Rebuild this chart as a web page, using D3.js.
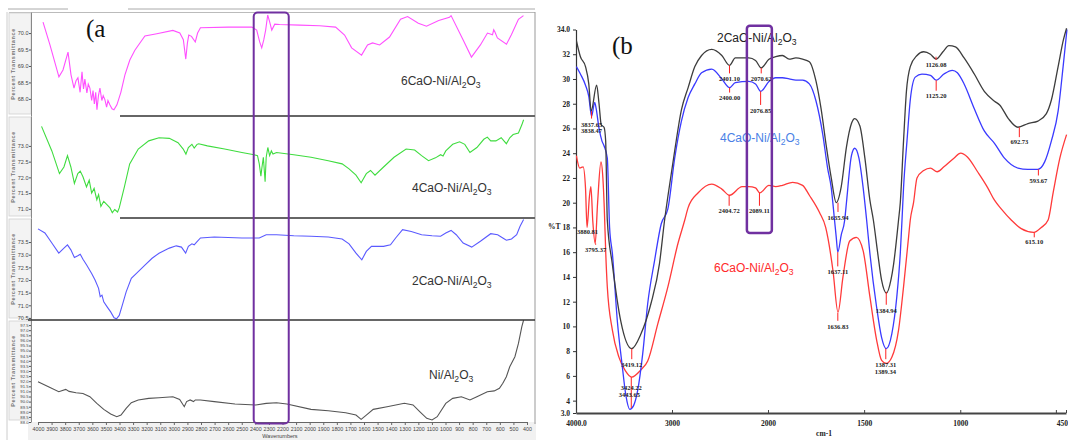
<!DOCTYPE html>
<html><head><meta charset="utf-8">
<script src="https://cdn.jsdelivr.net/npm/d3@7"></script>
<style>body{margin:0;background:#fff}svg{display:block}</style>
</head><body>
<svg id="c" width="1068" height="440"></svg>
<script>
// ---------- Panel (a) data: [wavenumber, %T] ----------
const sixA = [[3963,70.33],[3912,69.64],[3846,68.67],[3816,68.88],[3779,69.42],[3757,68.73],[3735,68.33],[3720,68.55],[3706,68.64],[3690,68.2],[3676,68.82],[3665,68.3],[3655,68.6],[3640,68.18],[3630,68.45],[3618,68.33],[3605,67.95],[3595,68.25],[3585,67.85],[3575,68.2],[3566,67.67],[3555,68.1],[3544,68.33],[3530,67.95],[3520,68.1],[3507,67.97],[3495,67.75],[3485,67.95],[3471,67.82],[3455,67.7],[3441,67.67],[3419,67.82],[3390,68.2],[3360,68.73],[3324,69.18],[3287,69.48],[3213,69.91],[3125,69.98],[3007,70.08],[2956,70.0],[2930,69.8],[2912,69.21],[2900,69.7],[2890,69.94],[2870,69.9],[2842,69.73],[2825,70.0],[2804,70.16],[2600,70.18],[2426,70.18],[2390,70.09],[2368,69.73],[2353,69.55],[2338,69.79],[2324,70.09],[2309,70.55],[2294,70.33],[2279,70.09],[2257,70.27],[2221,70.26],[2074,70.24],[1926,70.22],[1809,70.18],[1743,69.94],[1691,69.55],[1618,69.33],[1574,69.64],[1537,69.70],[1485,69.64],[1412,69.88],[1331,70.42],[1279,70.5],[1200,70.3],[1140,70.21],[1050,70.38],[971,70.48],[959,70.53],[870,69.79],[809,69.27],[743,69.64],[691,70.0],[654,69.95],[645,70.1],[636,70.03],[618,69.85],[551,69.66],[515,69.95],[463,70.42],[426,70.53]];
const fourA = [[3974,73.62],[3898,72.84],[3842,72.12],[3809,72.33],[3783,72.69],[3758,72.33],[3732,71.81],[3707,72.12],[3689,72.20],[3669,72.02],[3643,71.70],[3623,71.91],[3605,71.50],[3587,71.65],[3567,71.29],[3554,71.45],[3537,71.08],[3516,71.24],[3491,71.13],[3470,71.03],[3453,70.88],[3435,70.98],[3414,70.90],[3402,71.03],[3364,71.70],[3325,72.43],[3262,72.90],[3185,73.16],[3109,73.26],[3033,73.24],[2969,73.10],[2931,72.90],[2911,72.74],[2893,72.95],[2867,73.05],[2850,72.93],[2829,73.05],[2817,73.07],[2753,73.0],[2626,72.90],[2499,72.79],[2409,72.72],[2384,72.69],[2371,72.43],[2359,72.04],[2351,72.33],[2341,72.64],[2328,71.86],[2320,72.64],[2308,72.95],[2295,72.69],[2282,72.84],[2270,72.74],[2244,72.79],[2117,72.72],[1990,72.64],[1863,72.53],[1761,72.43],[1710,72.27],[1659,72.07],[1621,71.83],[1583,72.12],[1552,72.22],[1519,72.07],[1456,72.33],[1379,72.64],[1290,72.90],[1227,72.87],[1176,72.69],[1125,72.53],[1074,72.62],[1036,72.72],[1018,72.68],[998,72.84],[947,73.05],[896,73.13],[858,73.05],[820,72.79],[769,72.95],[718,73.21],[692,73.28],[667,73.16],[629,73.16],[590,73.26],[552,73.07],[527,73.26],[502,73.36],[463,73.41],[438,73.67],[425,73.83]];
const twoA = [[4000,74.02],[3949,73.86],[3898,73.46],[3847,73.06],[3809,73.26],[3783,73.39],[3758,73.19],[3732,72.89],[3707,72.96],[3689,73.02],[3669,72.82],[3643,72.60],[3605,72.26],[3580,72.0],[3554,71.67],[3542,71.34],[3529,71.40],[3516,71.14],[3491,70.94],[3465,70.74],[3440,70.51],[3422,70.47],[3402,70.60],[3376,71.07],[3351,71.53],[3313,72.07],[3262,72.33],[3211,72.60],[3160,72.86],[3109,73.06],[3033,73.26],[2982,73.35],[2944,73.30],[2913,73.06],[2893,73.33],[2867,73.43],[2850,73.39],[2834,73.49],[2804,73.66],[2702,73.70],[2499,73.66],[2371,73.66],[2320,73.79],[2244,73.79],[2117,73.75],[1990,73.73],[1863,73.70],[1761,73.62],[1710,73.43],[1659,73.06],[1616,72.80],[1583,73.13],[1545,73.33],[1494,73.33],[1456,73.33],[1405,73.39],[1367,73.66],[1316,73.99],[1252,73.92],[1176,73.79],[1099,73.75],[1036,73.73],[998,73.86],[959,73.96],[921,73.79],[870,73.46],[807,73.30],[743,73.53],[667,73.83],[616,73.79],[578,73.66],[552,73.57],[514,73.62],[476,73.79],[451,74.12],[425,74.39]];
const niA = [[4000,91.95],[3923,91.46],[3847,90.97],[3796,91.2],[3771,91.0],[3720,90.87],[3669,90.8],[3618,90.48],[3567,89.83],[3516,89.24],[3465,88.78],[3420,88.52],[3389,88.68],[3351,89.34],[3313,89.89],[3262,90.16],[3185,90.32],[3109,90.38],[3007,90.48],[2957,90.2],[2923,89.5],[2906,90.0],[2880,90.16],[2855,90.0],[2842,90.16],[2804,90.16],[2702,90.0],[2550,89.76],[2397,89.67],[2320,89.83],[2244,89.89],[2168,89.76],[1990,89.24],[1863,89.1],[1735,88.91],[1659,88.68],[1621,88.26],[1583,88.68],[1532,89.24],[1430,89.5],[1303,89.83],[1239,89.67],[1188,89.0],[1138,88.36],[1099,88.2],[1061,88.52],[998,89.83],[947,90.32],[883,90.48],[820,90.16],[769,90.48],[692,90.97],[641,91.05],[603,91.3],[578,91.8],[552,92.44],[527,93.42],[489,94.4],[463,95.7],[438,97.34],[425,98.0]];
const ticksA_x = d3.range(4000, 399, -100);
const ticks6A = [68.0,68.5,69.0,69.5,70.0];
const ticks4A = [71.0,71.5,72.0,72.5,73.0];
const ticks2A = [70.5,71.0,71.5,72.0,72.5,73.0,73.5];
const ticksNiA = d3.range(88, 97.51, 0.5);
const highlightA = [2412, 2154];

// ---------- Panel (b) data: [wavenumber, %T] ----------
const twoB = [[3996,33.1],[3954,31.8],[3901,31.0],[3867,29.6],[3842,27.4],[3785,29.5],[3760,28.0],[3737,26.3],[3708,26.1],[3691,25.0],[3674,18.6],[3621,15.0],[3533,10.4],[3421,8.2],[3323,9.4],[3219,11.85],[3130,15.1],[3077,18.6],[3043,20.5],[2972,24.2],[2902,27.5],[2832,29.3],[2762,31.0],[2692,31.9],[2586,32.4],[2481,31.9],[2401,31.1],[2340,31.7],[2200,31.7],[2130,31.5],[2071,30.9],[1995,31.6],[1960,31.8],[1925,31.9],[1890,31.6],[1855,31.7],[1820,31.6],[1785,31.4],[1750,29.8],[1724,27.6],[1697,24.6],[1671,22.0],[1645,20.0],[1619,21.3],[1592,24.5],[1566,26.4],[1549,26.8],[1522,26.2],[1496,23.6],[1470,20.2],[1452,18.6],[1430,16.0],[1410,13.8],[1384,12.7],[1360,13.8],[1347,15.0],[1321,18.6],[1312,20.0],[1295,25.0],[1280,29.0],[1260,31.0],[1225,31.9],[1190,32.2],[1155,32.0],[1126,31.6],[1090,32.2],[1059,32.7],[1025,32.6],[980,31.7],[927,30.4],[875,29.0],[822,28.2],[795,27.9],[750,26.8],[700,26.1],[648,26.4],[596,26.6],[552,27.2],[526,28.3],[491,31.0],[463,33.2],[447,34.1]];
const fourB = [[3996,31.0],[3954,30.4],[3901,29.5],[3867,28.6],[3838,27.0],[3805,28.1],[3790,27.6],[3760,26.0],[3730,25.0],[3708,24.6],[3674,23.6],[3650,18.0],[3621,15.9],[3569,10.4],[3519,6.85],[3480,4.4],[3440,3.3],[3400,3.6],[3358,4.8],[3305,7.8],[3253,11.85],[3182,15.3],[3112,18.3],[3043,19.5],[2972,23.6],[2902,26.6],[2832,28.5],[2762,29.6],[2692,30.5],[2586,30.8],[2481,30.0],[2400,29.3],[2340,29.7],[2200,29.8],[2130,29.6],[2076,29.0],[1995,29.8],[1960,30.1],[1925,30.1],[1890,30.0],[1855,29.9],[1820,29.9],[1785,29.6],[1750,28.2],[1715,25.5],[1690,22.8],[1671,21.2],[1654,18.6],[1645,17.2],[1637,16.0],[1619,17.4],[1601,18.6],[1592,20.0],[1566,23.8],[1549,24.4],[1527,23.6],[1505,21.2],[1487,18.6],[1470,15.9],[1435,11.55],[1409,9.1],[1385,8.2],[1356,9.4],[1330,12.4],[1312,15.9],[1303,18.6],[1295,21.2],[1277,25.0],[1260,28.3],[1234,30.15],[1199,30.4],[1155,30.3],[1125,29.9],[1085,30.4],[1041,30.7],[1015,30.5],[980,29.6],[927,27.6],[875,25.8],[822,24.8],[770,23.6],[700,22.8],[648,22.7],[596,22.7],[561,23.3],[526,25.0],[491,27.4],[465,31.0],[445,34.0]];
const sixB = [[3996,23.8],[3961,22.8],[3926,22.9],[3901,21.2],[3885,18.0],[3860,20.5],[3845,21.3],[3825,18.5],[3800,16.7],[3775,20.0],[3740,23.3],[3720,22.0],[3705,19.5],[3690,15.9],[3674,13.2],[3621,9.7],[3552,7.5],[3485,6.4],[3420,5.9],[3323,6.5],[3253,7.2],[3148,10.2],[3043,13.2],[2938,16.7],[2867,18.6],[2832,19.6],[2727,20.8],[2586,21.5],[2481,21.1],[2400,20.6],[2270,21.3],[2200,21.3],[2130,21.2],[2085,20.8],[1995,21.4],[1960,21.3],[1925,21.4],[1872,21.65],[1820,21.4],[1785,20.6],[1732,19.2],[1700,18.0],[1689,17.2],[1662,14.5],[1636,11.15],[1610,14.0],[1575,16.9],[1540,17.2],[1505,16.1],[1470,12.4],[1435,8.9],[1409,7.25],[1385,7.0],[1356,7.5],[1321,9.7],[1295,13.2],[1269,17.2],[1260,18.6],[1243,20.0],[1225,22.0],[1190,22.6],[1155,22.8],[1120,22.5],[1085,22.9],[1033,23.6],[998,24.0],[963,23.7],[910,22.5],[857,21.2],[822,20.2],[787,19.5],[735,18.6],[683,17.9],[618,17.6],[578,18.0],[543,18.6],[517,20.8],[482,23.6],[447,25.5]];
const ticksB_x = [4000,3000,2000,1500,1000,450];
const ticksB_xLabels = ["4000.0","3000","2000","1500","1000","450"];
const ticksB_y = [34,32,30,28,26,24,22,20,18,16,14,12,10,8,6,4,3];
// peak labels: text, %T at label centre
const peakText = ["3837.65","3838.47","2401.10","2400.00","2070.62","2076.85","2404.72","2089.11","1635.94","1637.11","1636.83","1384.94","1387.31","1389.34","3419.12","3424.22","3443.65","1126.08","1125.20","692.73","593.67","615.10","3880.81","3795.37"];
const peakLabelT = [26.33,25.78,30.0,28.48,30.0,27.46,19.33,19.33,18.79,14.39,9.99,11.29,6.92,6.33,6.92,5.08,4.46,31.13,28.62,24.9,21.81,16.82,17.68,16.23];
// marker lines: wavenumber, from %T, to %T
const markerWn   = [3838,2401.1,2400,2070.62,2076.85,2404.72,2089.11,1635.94,1637.11,1636.83,1384.94,1387.31,3419.12,3424.22,1126.08,1125.2,692.73,593.67,615.1,3795.37];
const markerFrom = [27.4,31.1,29.3,30.9,29.0,20.6,20.8,20.0,16.0,11.1,12.8,8.2,8.2,5.9,31.8,29.9,26.1,22.7,17.6,16.7];
const markerTo   = [26.8,30.45,28.9,30.45,27.9,19.75,19.75,19.25,14.85,10.45,11.75,7.35,7.35,3.4,31.55,29.05,25.3,22.2,17.2,16.6];
const highlightB = {wn:[2220,1980], t:[34.3,17.55]};

// ---------------- drawing ----------------
const svg = d3.select('#c');
svg.append('rect').attr('width',1068).attr('height',440).attr('fill','#fff');

function formula(g, x, y, pre, size, color){
  const t = g.append('text').attr('x',x).attr('y',y)
    .attr('font-family','Liberation Sans, Arial, sans-serif').attr('font-size',size).attr('fill',color);
  t.append('tspan').text(pre+'Ni/Al');
  t.append('tspan').attr('dy',size*0.28).attr('font-size',size*0.72).text('2');
  t.append('tspan').attr('dy',-size*0.28).text('O');
  t.append('tspan').attr('dy',size*0.28).attr('font-size',size*0.72).text('3');
}

// ===== Panel (a) =====
const gA = svg.append('g');
const xA = d3.scaleLinear().domain([4000,400]).range([38,527]);
gA.append('rect').attr('x',28).attr('y',422).attr('width',508).attr('height',18).attr('fill','#f1f1f1');
gA.append('line').attr('x1',7).attr('x2',7).attr('y1',12).attr('y2',440).attr('stroke','#ccc');
gA.append('line').attr('x1',8).attr('x2',535).attr('y1',9).attr('y2',9).attr('stroke','#aaa');
gA.append('line').attr('x1',9).attr('x2',535).attr('y1',12.5).attr('y2',12.5).attr('stroke','#bbb');
gA.append('line').attr('x1',535).attr('x2',535).attr('y1',12).attr('y2',424).attr('stroke','#999');

const subs = [
  {data:sixA, color:'#ff50ff', dom:[67.48,70.64], top:12, bot:116, ticks:ticks6A, pre:'6CaO-', lx:401, ly:85},
  {data:fourA, color:'#3fdc3f', dom:[70.71,73.95], top:116, bot:218, ticks:ticks4A, pre:'4CaO-', lx:412, ly:192},
  {data:twoA, color:'#5a5aff', dom:[70.42,74.45], top:218, bot:320, ticks:ticks2A, pre:'2CaO-', lx:412, ly:285},
  {data:niA, color:'#555', dom:[88,98], top:320, bot:422, ticks:ticksNiA, pre:'', lx:429, ly:379}
];
subs.forEach((s,i)=>{
  const y = d3.scaleLinear().domain(s.dom).range([s.bot, s.top]);
  gA.append('rect').attr('x',9).attr('y',s.top+1).attr('width',22).attr('height',s.bot-s.top-3)
    .attr('fill','#f3f3f3').attr('stroke','#d0d0d0').attr('stroke-width',0.8);
  gA.append('text').attr('transform',`translate(15,${(s.top+s.bot)/2}) rotate(-90)`)
    .attr('text-anchor','middle').attr('font-family','Liberation Sans, Arial, sans-serif')
    .attr('font-size',5.5).attr('font-weight','bold').attr('fill','#777').attr('letter-spacing',0.6)
    .text('Percent Transmittance');
  const ax = d3.axisLeft(y).tickValues(s.ticks).tickSize(2).tickSizeOuter(0).tickFormat(d3.format('.1f'));
  const ag = gA.append('g').attr('transform','translate(31,0)').call(ax);
  ag.select('.domain').attr('stroke','#888');
  ag.selectAll('.tick line').attr('stroke','#555');
  ag.selectAll('text').attr('font-size', i===3?4.2:5.5).attr('fill','#444')
    .attr('font-family','Liberation Sans, Arial, sans-serif').attr('x',-2.5);
  const cid = 'clipA'+i;
  gA.append('clipPath').attr('id',cid).append('rect').attr('x',31).attr('y',s.top).attr('width',504).attr('height',s.bot-s.top);
  const line = d3.line().x(d=>xA(d[0])).y(d=>y(d[1]));
  gA.append('path').datum(s.data).attr('clip-path',`url(#${cid})`).attr('d',line)
    .attr('fill','none').attr('stroke',s.color).attr('stroke-width',1.1);
  formula(gA, s.lx, s.ly, s.pre, 12, '#333');
});
gA.append('line').attr('x1',120).attr('x2',535).attr('y1',116).attr('y2',116).attr('stroke','#666').attr('stroke-width',2);
gA.append('line').attr('x1',120).attr('x2',535).attr('y1',218).attr('y2',218).attr('stroke','#666').attr('stroke-width',2);
gA.append('line').attr('x1',28).attr('x2',535).attr('y1',320).attr('y2',320).attr('stroke','#333').attr('stroke-width',1.3);
const axA = d3.axisBottom(xA).tickValues(ticksA_x).tickSize(3).tickSizeOuter(0).tickFormat(d3.format('d'));
const axAg = gA.append('g').attr('transform','translate(0,422)').call(axA);
axAg.select('.domain').attr('stroke','#666');
axAg.selectAll('.tick line').attr('stroke','#666');
axAg.selectAll('text').attr('font-size',5.3).attr('fill','#444').attr('font-family','Liberation Sans, Arial, sans-serif').attr('y',5);
gA.append('text').attr('x',280).attr('y',438).attr('text-anchor','middle').attr('font-size',5.5)
  .attr('font-family','Liberation Sans, Arial, sans-serif').attr('fill','#444').text('Wavenumbers');
gA.append('rect').attr('x',68).attr('y',0).attr('width',60).attr('height',12).attr('fill','#fff');
gA.append('text').attr('x',86).attr('y',37).attr('font-family','Liberation Serif, Times New Roman, serif')
  .attr('font-size',25).attr('fill','#111').text('(a');
gA.append('rect').attr('x',xA(highlightA[0])).attr('y',12.5).attr('width',xA(highlightA[1])-xA(highlightA[0]))
  .attr('height',411).attr('rx',4).attr('fill','none').attr('stroke','#7030a0').attr('stroke-width',2);

// ===== Panel (b) =====
const gB = svg.append('g');
const xB = d3.scaleLinear().domain([4000,2000,450]).range([576,768,1066]);
const yB = d3.scaleLinear().domain([3,34]).range([413,29.5]);
const serif = 'Liberation Serif, Times New Roman, serif';
const ayB = d3.axisLeft(yB).tickValues(ticksB_y).tickSize(3).tickSizeOuter(0)
  .tickFormat(d=> d===34?'34.0':(d===3?'3.0':String(d)));
const ayg = gB.append('g').attr('transform','translate(576,0)').call(ayB);
ayg.select('.domain').attr('stroke','#333').attr('stroke-width',1.2);
ayg.selectAll('.tick line').attr('stroke','#333');
ayg.selectAll('text').attr('font-family',serif).attr('font-size',7.5).attr('font-weight','bold').attr('fill','#222');
const axB = d3.axisBottom(xB).tickValues(ticksB_x).tickSize(-3).tickSizeOuter(0)
  .tickFormat((d,i)=>ticksB_xLabels[i]);
const axg = gB.append('g').attr('transform','translate(0,413)').call(axB);
axg.select('.domain').attr('stroke','#444').attr('stroke-width',2);
axg.selectAll('.tick line').attr('stroke','#444');
axg.selectAll('text').attr('font-family',serif).attr('font-size',7.5).attr('font-weight','bold').attr('fill','#222').attr('y',8);
axg.selectAll('.tick').filter(d=>d===450).select('text').attr('text-anchor','end').attr('x',1.5);
gB.append('line').attr('x1',xB(500)).attr('x2',xB(500)).attr('y1',413).attr('y2',410).attr('stroke','#444');
gB.append('text').attr('x',824).attr('y',436).attr('text-anchor','middle').attr('font-family',serif)
  .attr('font-size',7.5).attr('font-weight','bold').attr('fill','#222').text('cm-1');
gB.append('text').attr('x',548).attr('y',229).attr('font-family',serif)
  .attr('font-size',7.5).attr('font-weight','bold').attr('fill','#222').text('%T');

gB.append('clipPath').attr('id','clipB').append('rect').attr('x',576).attr('y',26).attr('width',492).attr('height',387);
const lineB = d3.line().x(d=>xB(d[0])).y(d=>yB(d[1])).curve(d3.curveMonotoneX);
[[sixB,'#ff3a3a'],[fourB,'#3a3aff'],[twoB,'#3d3d3d']].forEach(([d,c])=>{
  gB.append('path').datum(d).attr('clip-path','url(#clipB)').attr('d',lineB)
    .attr('fill','none').attr('stroke',c).attr('stroke-width',1.3);
});
markerWn.forEach((w,i)=>{
  gB.append('line').attr('x1',xB(w)).attr('x2',xB(w)).attr('y1',yB(markerFrom[i])).attr('y2',yB(markerTo[i]))
    .attr('stroke','#ff2020').attr('stroke-width',1);
});
peakText.forEach((t,i)=>{
  gB.append('text').attr('x',xB(+t)).attr('y',yB(peakLabelT[i])+2.3).attr('text-anchor','middle')
    .attr('font-family',serif).attr('font-size',6.5).attr('font-weight','bold').attr('fill','#222').text(t);
});
formula(gB, 717, 42, '2CaO-', 12, '#222');
formula(gB, 720, 142, '4CaO-', 12, '#4a7fe6');
formula(gB, 714, 272, '6CaO-', 12, '#ff2a2a');
gB.append('text').attr('x',612).attr('y',54).attr('font-family',serif).attr('font-size',25).attr('fill','#111').text('(b');
gB.append('rect').attr('x',xB(highlightB.wn[0])).attr('y',yB(highlightB.t[0]))
  .attr('width',xB(highlightB.wn[1])-xB(highlightB.wn[0])).attr('height',yB(highlightB.t[1])-yB(highlightB.t[0]))
  .attr('rx',3).attr('fill','none').attr('stroke','#7030a0').attr('stroke-width',2.5);
</script>
</body></html>
